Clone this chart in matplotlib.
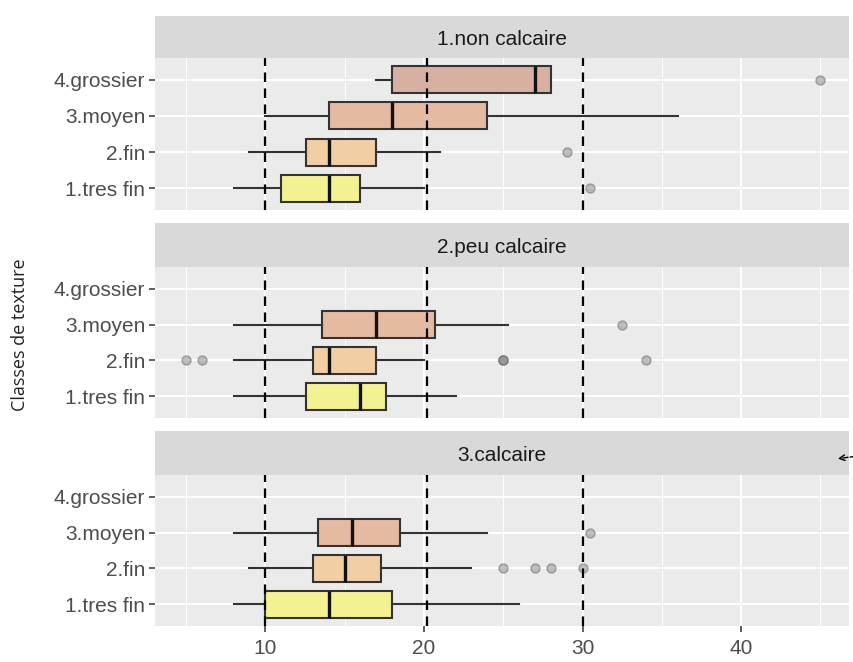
import matplotlib
matplotlib.use("Agg")
import matplotlib.pyplot as plt
from matplotlib.ticker import FixedLocator

# ---------------- data ----------------
panels = ["1.non calcaire", "2.peu calcaire", "3.calcaire"]
categories = ["1.tres fin", "2.fin", "3.moyen", "4.grossier"]
colors = ["#F3F192", "#F2CEA4", "#E6B9A1", "#D8B0A2"]

# each entry: [whislo, q1, med, q3, whishi] per category (None = no data)
non_calcaire_stats = [[8, 11, 14, 16, 20], [9, 12.6, 14, 17, 21],
                      [10, 14, 18, 24, 36], [17, 18, 27, 28, 28]]
non_calcaire_out = [[30.5], [29], [], [45]]

peu_calcaire_stats = [[8, 12.6, 16, 17.6, 22], [8, 13, 14, 17, 20],
                      [8, 13.6, 17, 20.7, 25.3], None]
peu_calcaire_out = [[], [5, 6, 25, 25, 25, 34], [32.5], []]

calcaire_stats = [[8, 10, 14, 18, 26], [9, 13, 15, 17.3, 23],
                  [8, 13.3, 15.5, 18.5, 24], None]
calcaire_out = [[], [25, 27, 28, 30], [30.5], []]

all_stats = [non_calcaire_stats, peu_calcaire_stats, calcaire_stats]
all_out = [non_calcaire_out, peu_calcaire_out, calcaire_out]

ref_lines = [10, 20.2, 30]
x_ticks = [10, 20, 30, 40]
x_minor = [5, 15, 25, 35, 45]
y_label = "Classes de texture"

# ---------------- figure ----------------
W, H = 854, 662
fig = plt.figure(figsize=(W / 100, H / 100), dpi=100)
fig.patch.set_facecolor("white")

left_px, right_px = 155, 849
# (strip_top, strip_bottom/panel_top, panel_bottom) in pixels from top
layout = [(16, 58, 210), (223, 267, 418), (431, 475, 626)]

def rect(top, bottom):
    return [left_px / W, (H - bottom) / H, (right_px - left_px) / W, (bottom - top) / H]

tick_col = "#4D4D4D"
for i, (st, pt, pb) in enumerate(layout):
    # strip
    sax = fig.add_axes(rect(st, pt))
    sax.set_facecolor("#D9D9D9")
    for s in sax.spines.values():
        s.set_visible(False)
    sax.set_xticks([]); sax.set_yticks([])
    sax.text(0.5, 0.45, panels[i], ha="center", va="center", fontsize=15,
             color="#1A1A1A", family="Liberation Sans", transform=sax.transAxes)

    ax = fig.add_axes(rect(pt, pb))
    ax.set_facecolor("#EBEBEB")
    for s in ax.spines.values():
        s.set_visible(False)

    stats, positions, fcs = [], [], []
    for j, st_vals in enumerate(all_stats[i]):
        if st_vals is None:
            continue
        wl, q1, med, q3, wh = st_vals
        stats.append(dict(whislo=wl, q1=q1, med=med, q3=q3, whishi=wh,
                          fliers=all_out[i][j]))
        positions.append(j + 1)
        fcs.append(colors[j])
    bp = ax.bxp(stats, positions=positions, vert=False, widths=0.75,
                patch_artist=True, showcaps=False,
                boxprops=dict(edgecolor="#333333", lw=1.5),
                whiskerprops=dict(color="#333333", lw=1.5),
                medianprops=dict(color="#111111", lw=2.4),
                flierprops=dict(marker="o", markersize=6.5, markerfacecolor="#8f8f8f",
                                markeredgecolor="#6f6f6f", alpha=0.55))
    for patch, fc in zip(bp["boxes"], fcs):
        patch.set_facecolor(fc)
        patch.set_zorder(2)
    for v in ref_lines:
        ax.axvline(v, color="black", lw=1.6, ls=(0, (4.3, 2.9)), zorder=5)

    ax.set_xlim(3.05, 46.8)
    ax.set_ylim(0.4, 4.6)
    ax.xaxis.set_major_locator(FixedLocator(x_ticks))
    ax.xaxis.set_minor_locator(FixedLocator(x_minor))
    ax.set_yticks(range(1, len(categories) + 1))
    ax.set_yticklabels(categories, fontsize=15, color=tick_col, family="Liberation Sans")
    ax.grid(True, which="major", color="white", lw=1.4, zorder=0)
    ax.grid(True, which="minor", axis="x", color="white", lw=0.7, zorder=0)
    ax.set_axisbelow(True)
    ax.tick_params(axis="y", length=4, width=1.1, color="#333333", pad=3)
    ax.tick_params(axis="x", which="minor", length=0)
    if i == len(layout) - 1:
        ax.set_xticklabels([str(t) for t in x_ticks])
        ax.tick_params(axis="x", which="major", length=4, width=1.1, color="#333333",
                       labelsize=15, labelcolor=tick_col, pad=5)
        for lab in ax.get_xticklabels():
            lab.set_family("Liberation Sans")
    else:
        ax.tick_params(axis="x", which="major", length=0, labelbottom=False)

fig.text(20 / W, 1 - 335 / H, y_label, rotation=90, ha="center", va="center",
         fontsize=13, color="#222222", family="Open Sans")

# small annotation arrow at the right edge
fig.add_artist(matplotlib.patches.FancyArrowPatch(
    (858 / W, 1 - 456 / H), (835 / W, 1 - 459 / H), transform=fig.transFigure,
    arrowstyle="->", mutation_scale=10, lw=1.0, color="black", linestyle="--"))

fig.savefig("out.png", dpi=100)
